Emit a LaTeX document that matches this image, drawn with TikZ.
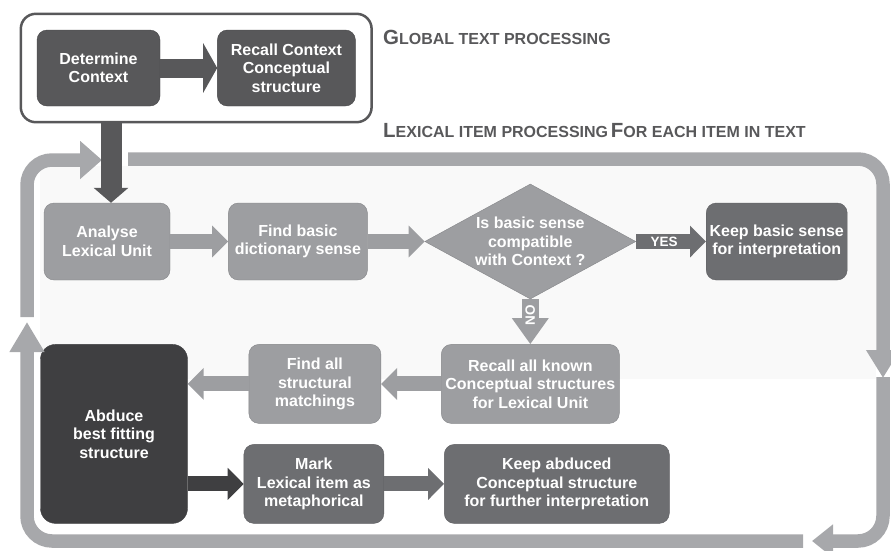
\documentclass[tikz,border=0pt]{standalone}
\usepackage{fontspec}
\setmainfont{Liberation Sans}
\usetikzlibrary{arrows.meta,positioning,shapes.geometric,fit}
\definecolor{darkbox}{HTML}{58585A}
\definecolor{midbox}{HTML}{9D9EA1}
\definecolor{slatebox}{HTML}{6D6E71}
\definecolor{deepbox}{HTML}{3F3F41}
\definecolor{loopgray}{HTML}{A7A8AB}
\definecolor{faintbg}{HTML}{F9F9F9}
\newcommand{\fakesc}[2]{{\fontsize{20.5}{24}\selectfont #1}{\fontsize{16}{18}\selectfont #2}}
\tikzset{
    flowbox/.style={rectangle,rounded corners=10pt,align=center,text=white,font=\bfseries\fontsize{16}{18.5}\selectfont,inner sep=2pt,minimum height=77pt},
    ctxbox/.style={flowbox,fill=darkbox,draw=darkbox!80!black,minimum height=76pt},
    lexbox/.style={flowbox,fill=midbox,draw=midbox!85!black},
    keepbox/.style={flowbox,fill=slatebox,draw=slatebox!85!black},
    abdbox/.style={flowbox,fill=deepbox,draw=deepbox,rounded corners=15pt},
    checkdiamond/.style={diamond,aspect=1.85,inner sep=0pt,align=center,text=white,font=\bfseries\fontsize{16}{18.5}\selectfont,fill=midbox,draw=midbox!85!black,minimum width=211pt,minimum height=115pt},
    globalframe/.style={rectangle,rounded corners=15pt,draw=darkbox,line width=2.5pt,inner sep=16pt},
    blockline/.style={line width=15pt,-{Triangle[length=16pt,width=31pt]}},
    loopline/.style={line width=13.5pt,draw=loopgray,rounded corners=25pt},
    sectiontitle/.style={anchor=base west,inner sep=0pt,text=darkbox,font=\bfseries},
    armlabel/.style={text=white,font=\bfseries\fontsize{13.5}{16}\selectfont}
}

\begin{document}
\begin{tikzpicture}[x=1pt,y=1pt]
    \useasboundingbox (0,0) rectangle (891,-550);
    % faint panel inside the item loop
    \fill[faintbg] (40,-166) rectangle (876,-379);

    % global text processing
    \node[ctxbox,minimum width=123pt] (determine) at (98.5,-68) {Determine\\Context};
    \node[ctxbox,minimum width=138pt,right=57pt of determine] (recallctx) {Recall Context\\Conceptual\\structure};
    \node[globalframe,fit=(determine)(recallctx)] (global) {};
    \node[sectiontitle] (globaltitle) at (383,-44) {\fakesc{G}{LOBAL TEXT PROCESSING}};
    \node[sectiontitle] (lexicaltitle) at (383,-137) {\fakesc{L}{EXICAL ITEM PROCESSING} \fakesc{F}{OR EACH ITEM IN TEXT}};

    % lexical item processing
    \node[lexbox,minimum width=126pt] (analyse) at (107,-241.5) {Analyse\\Lexical Unit};
    \node[lexbox,minimum width=139pt,right=58pt of analyse] (findbasic) {Find basic\\dictionary sense};
    \node[checkdiamond,right=57pt of findbasic] (check) {Is basic sense\\compatible\\with Context ?};
    \node[keepbox,minimum width=141pt,right=70pt of check] (keepbasic) {Keep basic sense\\for interpretation};
    \node[lexbox,minimum width=178pt,minimum height=79pt,below=45pt of check] (recallall) {Recall all known\\Conceptual structures\\for Lexical Unit};
    \node[lexbox,minimum width=132pt,minimum height=79pt,left=60pt of recallall] (findall) {Find all\\structural\\matchings};
    \node[abdbox,minimum width=147pt,minimum height=179pt,left=61pt of findall.north west,anchor=north east] (abduce) {Abduce\\best fitting\\structure};
    \node[keepbox,minimum width=140pt,minimum height=79pt,right=56pt of abduce.south east,anchor=south west] (mark) {Mark\\Lexical item as\\metaphorical};
    \node[keepbox,minimum width=225pt,minimum height=79pt,right=60pt of mark] (keepabd) {Keep abduced\\Conceptual structure\\for further interpretation};

    % loop round the items
    \coordinate (loopin) at (128,-159);
    \coordinate (loopne) at (883,-159);
    \coordinate (loopmid) at (883,-378);
    \coordinate (loopgo) at (883,-377);
    \coordinate (loopse) at (883,-541);
    \coordinate (loopback) at (812,-541);
    \coordinate (loopbase) at (803,-541);
    \coordinate (loopsw) at (27,-541);
    \coordinate (loopup) at (27,-322);
    \coordinate (looprise) at (27,-317);
    \coordinate (loopnw) at (27,-160);
    \coordinate (loopout) at (102,-160);
    \draw[loopline,-{Triangle[length=28pt,width=32pt]}] (loopin) -- (loopne) -- (loopmid);
    \draw[loopline,-{Triangle[length=21pt,width=32pt]}] (loopgo) -- (loopse) -- (loopback);
    \draw[loopline,-{Triangle[length=30pt,width=33pt]}] (loopbase) -- (loopsw) -- (loopup);
    \draw[loopline,-{Triangle[length=22pt,width=37pt]}] (looprise) -- (loopnw) -- (loopout);

    % connectors
    \draw[blockline,darkbox,line width=19pt,-{Triangle[length=14pt,width=49pt]}] (determine) -- (recallctx);
    \draw[darkbox,line width=21pt,-{Triangle[length=15pt,width=34pt]}] ([xshift=4pt]analyse.north |- global.south) -- ([xshift=4pt]analyse.north);
    \draw[blockline,midbox] (analyse) -- (findbasic);
    \draw[blockline,midbox] (findbasic) -- (check);
    \draw[blockline,slatebox] (check) -- node[armlabel,pos=0.4]{YES} (keepbasic);
    \draw[blockline,midbox,line width=17pt,-{Triangle[length=26pt,width=35pt]}] (check.south) -- node[armlabel,rotate=90,pos=0.35]{NO} (check.south |- recallall.north);
    \draw[blockline,midbox] (recallall) -- (findall);
    \draw[blockline,midbox] (findall.west) -- (findall.west -| abduce.east);
    \draw[blockline,deepbox] (abduce.east |- mark.west) -- (mark.west);
    \draw[blockline,slatebox] (mark) -- (keepabd);
\end{tikzpicture}
\end{document}
